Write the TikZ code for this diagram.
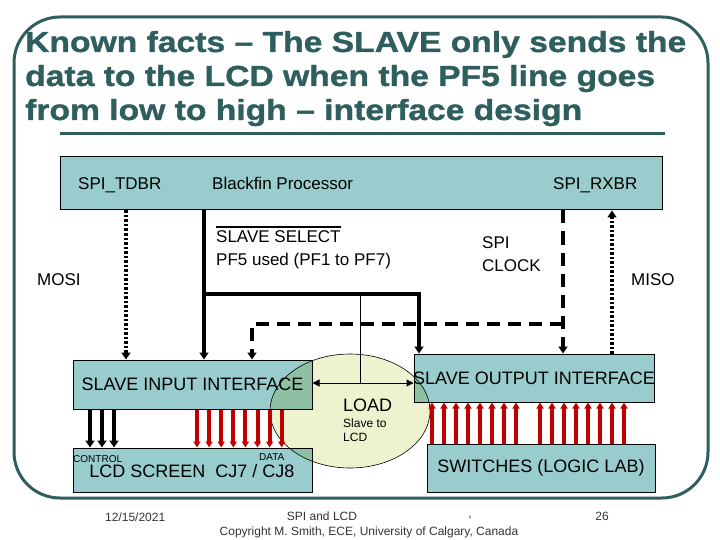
\documentclass[tikz,border=0pt]{standalone}
\usepackage{fontspec}
\setmainfont{Liberation Sans}
\usetikzlibrary{arrows.meta,positioning}

\definecolor{slideteal}{RGB}{46,94,94}
\definecolor{boxteal}{RGB}{153,204,204}
\definecolor{wirered}{RGB}{192,0,0}
\definecolor{loadfill}{RGB}{238,242,206}

\tikzset{
  blk/.style={draw,line width=1pt,fill=boxteal,inner sep=0pt},
  lbl/.style={font=\fontsize{17}{20}\selectfont,inner sep=0pt},
  boxlbl/.style={font=\fontsize{18}{21}\selectfont,inner sep=0pt},
  tiny/.style={font=\fontsize{10}{12}\selectfont,inner sep=0pt},
  ttl/.style={font=\fontsize{29}{34}\selectfont\bfseries\addfontfeature{FakeStretch=1.16,FakeBold=1.2},
    text=slideteal,inner sep=0pt,anchor=base west},
  wire/.style={line width=4pt,-{Triangle[width=9pt,length=7pt]}},
  dotwire/.style={wire,dash pattern=on 2.5pt off 2pt},
  dashwire/.style={wire,dash pattern=on 13pt off 8pt},
  redwire/.style={line width=4pt,wirered,-{Triangle[width=7pt,length=6pt]}},
  foot/.style={font=\fontsize{12}{14}\selectfont,text=black!80,inner sep=0pt}
}

\begin{document}
\begin{tikzpicture}[x=1pt,y=-1pt]
\useasboundingbox (0,0) rectangle (720,540);

% frame and title
\draw[slideteal,line width=3pt,rounded corners=46pt] (14,17) rectangle (708,498);
\node[ttl] (t1) at (25,52) {Known facts – The SLAVE only sends the};
\node[ttl] (t2) at (25,86) {data to the LCD when the PF5 line goes};
\node[ttl] (t3) at (25,120) {from low to high – interface design};
\draw[slideteal,line width=3pt] (60,134) -- (665,134);

% boxes
\node[blk,minimum width=602pt,minimum height=53pt] (proc) at (361,183.5) {};
\node[blk,minimum width=239pt,minimum height=49pt] (sin) at (192.5,384.5) {};
\node[blk,minimum width=240pt,minimum height=48pt] (sout) at (534,378) {};
\node[blk,minimum width=239pt,minimum height=44pt] (lcd) at (192.5,470) {};
\node[blk,minimum width=228pt,minimum height=48pt] (sw) at (541,468) {};

% load bubble
\draw[fill=loadfill,blend mode=multiply,line width=0.6pt] (350,411) ellipse [x radius=80,y radius=57];

% box texts
\node[lbl,anchor=base west] (tdbr) at (78,190) {SPI\_TDBR};
\node[lbl,anchor=base west] (bfp) at (212,190) {Blackfin Processor};
\node[lbl,anchor=base west] (rxbr) at (553,190) {SPI\_RXBR};
\node[boxlbl] (sinlbl) at (sin.center) {SLAVE INPUT INTERFACE};
\node[boxlbl] (soutlbl) at (sout.center) {SLAVE OUTPUT INTERFACE};
\node[boxlbl] (lcdlbl) at (192,471) {LCD SCREEN\ \ CJ7 / CJ8};
\node[boxlbl] (swlbl) at (sw.center) {SWITCHES (LOGIC LAB)};
\node[tiny,anchor=base west] (ctl) at (73,462) {CONTROL};
\node[tiny,anchor=base west] (dat) at (259,460) {DATA};

% wire labels
\node[lbl,anchor=base west] (mosi) at (37,285) {MOSI};
\node[lbl,anchor=base west] (miso) at (631,285) {MISO};
\node[lbl,anchor=base west] (ss) at (216,243) {SLAVE SELECT};
\draw[line width=2pt] ([yshift=4pt]ss.north west) -- ([yshift=4pt]ss.north east);
\node[lbl,anchor=base west] (pf) at (216,265) {PF5 used (PF1 to PF7)};
\node[lbl,anchor=base west] (spi) at (482,248) {SPI};
\node[lbl,anchor=base west] (clk) at (482,271) {CLOCK};
\node[font=\fontsize{18}{21}\selectfont,inner sep=0pt,anchor=base west] (load) at (343,411) {LOAD};
\node[font=\fontsize{12}{14}\selectfont,inner sep=0pt,anchor=base west] (sl1) at (343,427) {Slave to};
\node[font=\fontsize{12}{14}\selectfont,inner sep=0pt,anchor=base west] (sl2) at (343,441) {LCD};

% SPI wires
\draw[dotwire] (proc.south -| 126,0) -- (sin.north -| 126,0);
\draw[wire] (proc.south -| 204,0) -- (sin.north -| 204,0);
\coordinate (ssj) at (204,294);
\draw[wire] (ssj) -| (sout.north -| 419,0);
\draw[dashwire] (proc.south -| 563,0) -- (sout.north -| 563,0);
\coordinate (clkj) at (563,324);
\draw[dashwire] (clkj) -| (sin.north -| 252,0);
\draw[dotwire] (sout.north -| 612,0) -- (proc.south -| 612,0);

% load strobe
\coordinate (ldj) at (360,294);
\draw[line width=1pt] (ldj) -- (360,383);
\draw[line width=1pt,{Triangle[width=7pt,length=7pt]}-{Triangle[width=7pt,length=7pt]}]
  (sin.east |- 0,383) -- (sout.west |- 0,383);

% parallel buses
\foreach \x in {90,102,114}
  \draw[wire] (sin.south -| \x,0) -- (lcd.north -| \x,0);
\foreach \i in {0,...,7}
  \draw[redwire] (sin.south -| {197+12.1*\i},0) -- (lcd.north -| {197+12.1*\i},0);
\foreach \x in {432,444,...,516,540,552,...,624}
  \draw[redwire] (sw.north -| \x,0) -- (sout.south -| \x,0);

% footer
\node[foot,anchor=base west] (date) at (105,521) {12/15/2021};
\node[foot] (topic) at (322,516) {SPI and LCD};
\node[foot] (cm) at (470,518) {,};
\node[foot] (page) at (602,516) {26};
\node[foot] (copy) at (369,532) {Copyright M. Smith, ECE, University of Calgary, Canada};
\end{tikzpicture}
\end{document}
